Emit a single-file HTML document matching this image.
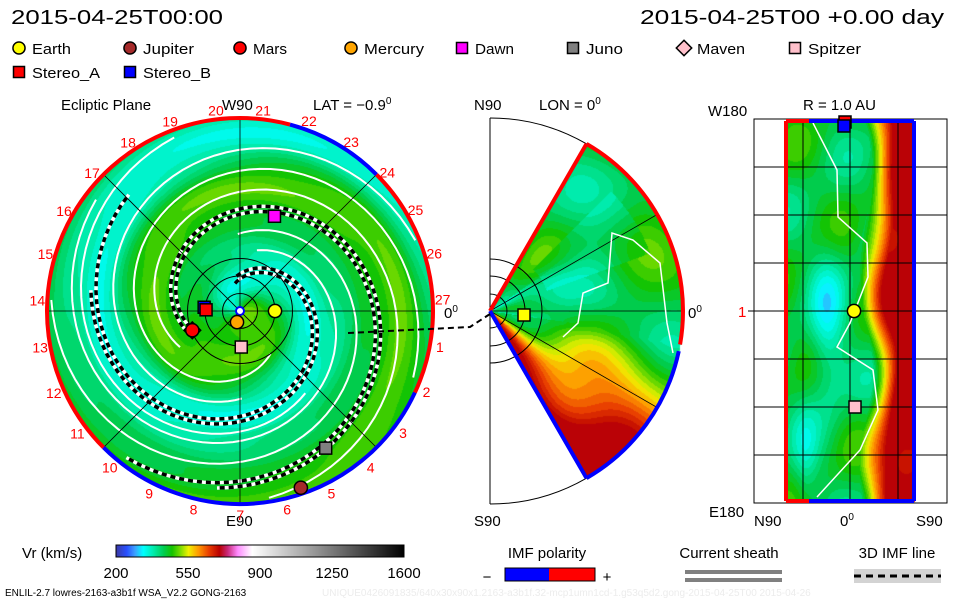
<!DOCTYPE html>
<html><head><meta charset="utf-8"><style>
html,body{margin:0;padding:0;background:#fff;}
#wrap{position:relative;width:960px;height:600px;overflow:hidden;font-family:"Liberation Sans",sans-serif;}
canvas,svg{position:absolute;left:0;top:0;}
</style></head><body>
<div id="wrap">
<canvas id="cv" width="960" height="600"></canvas>
<svg id="sv" width="960" height="600" xmlns="http://www.w3.org/2000/svg" font-family="Liberation Sans, sans-serif">
<text x="11" y="24" font-size="20" textLength="212" lengthAdjust="spacingAndGlyphs">2015-04-25T00:00</text>
<text x="640" y="24" font-size="20" textLength="304" lengthAdjust="spacingAndGlyphs">2015-04-25T00 +0.00 day</text>
<g id="legend" font-size="15"></g>
<text x="61" y="110" font-size="15">Ecliptic Plane</text>
<text x="222" y="110" font-size="15">W90</text>
<text x="313" y="110" font-size="15">LAT = −0.9<tspan font-size="10" dy="-6">0</tspan></text>
<text x="474" y="110" font-size="15">N90</text>
<text x="539" y="110" font-size="15">LON = 0<tspan font-size="10" dy="-6">0</tspan></text>
<text x="708" y="116" font-size="15">W180</text>
<text x="803" y="110" font-size="15">R = 1.0 AU</text>
<text x="226" y="526" font-size="15">E90</text>
<text x="474" y="526" font-size="15">S90</text>
<text x="709" y="517" font-size="15">E180</text>
<text x="754" y="526" font-size="15">N90</text>
<text x="840" y="526" font-size="15">0<tspan font-size="10" dy="-6">0</tspan></text>
<text x="916" y="526" font-size="15">S90</text>
<text x="444" y="318" font-size="15">0<tspan font-size="10" dy="-6">0</tspan></text>
<text x="688" y="318" font-size="15">0<tspan font-size="10" dy="-6">0</tspan></text>
<text x="738" y="317" font-size="15" fill="#f00">1</text>
<g id="left"></g>
<g id="mid"></g>
<g id="right"></g>
<text x="22" y="558" font-size="15">Vr (km/s)</text>
<g id="cbar"></g>
<text x="547" y="558" font-size="15" text-anchor="middle">IMF polarity</text>
<rect x="505" y="568" width="44" height="13" fill="#0000ff"/>
<rect x="549" y="568" width="46" height="13" fill="#ff0000"/>
<rect x="505" y="568" width="90" height="13" fill="none" stroke="#000"/>
<text x="487" y="582" font-size="15" text-anchor="middle">−</text>
<text x="607" y="582" font-size="15" text-anchor="middle">+</text>
<text x="729" y="558" font-size="15" text-anchor="middle">Current sheath</text>
<rect x="685" y="570" width="97" height="4" fill="#808080"/>
<rect x="685" y="578" width="97" height="4" fill="#808080"/>
<text x="897" y="558" font-size="15" text-anchor="middle">3D IMF line</text>
<rect x="854" y="569" width="87" height="14" fill="#d3d3d3"/>
<line x1="854" y1="576" x2="941" y2="576" stroke="#000" stroke-width="3" stroke-dasharray="7,5"/>
<text x="5" y="596" font-size="10">ENLIL-2.7 lowres-2163-a3b1f WSA_V2.2 GONG-2163</text>
<text x="322" y="596" font-size="10" fill="#ececec">UNIQUE0426091835/640x30x90x1.2163-a3b1f.32-mcp1umn1cd-1.g53q5d2.gong-2015-04-25T00   2015-04-26</text>
</svg>
</div>
<script>
// ---- data ----
const bodyNames = ['Earth','Jupiter','Mars','Mercury','Dawn','Juno','Maven','Spitzer','Stereo_A','Stereo_B'];
const bodyR = [1.0, 5.34, 1.47, 0.33, 2.88, 4.62, 1.47, 1.03, 0.97, 1.03]; // AU
const bodyLon = [0, -71, -158, -105, 70, -58, -158, -88, 178, 174]; // deg
const bodyShape = ['circle','circle','circle','circle','square','square','diamond','square','square','square'];
const bodyColor = ['#ffff00','#a52a2a','#ff0000','#ffa500','#ff00ff','#808080','#ffc0cb','#ffc0cb','#ff0000','#0000ff'];
const cbTicks = [200,550,900,1250,1600];
const sheathPhi0 = [5.72, 5.95, 2.95, 3.17];
const sheathR0 = [1.4, 1.6, 0.8, 1.0];
const sheathR1 = [5.3, 5.1, 4.6, 4.3];
const whitePhi0 = [0.4, 1.3, 2.2, 4.0, 4.9, 3.6];
const whiteR0 = [2.0, 1.5, 2.5, 1.8, 2.2, 3.0];
const whiteR1 = [5.4, 5.3, 5.4, 5.2, 5.4, 5.3];
// legend layout (not data)
const legendX = [19,130,240,351,462,573,684,795,19,130];
const legendY = [48,48,48,48,48,48,48,48,72,72];
const legendW = [39,51,34,60,39,37,48,53,68,68];

const NS='http://www.w3.org/2000/svg';
function mk(tag, attrs, parent){const e=document.createElementNS(NS,tag);for(const k in attrs)e.setAttribute(k,attrs[k]);parent.appendChild(e);return e;}

const stops=[[200,58,58,168],[250,40,80,255],[290,60,160,255],[330,0,255,255],[380,0,235,170],[430,0,205,80],[470,20,195,0],[510,120,220,0],[550,240,240,0],[600,255,150,0],[650,232,60,0],[700,185,0,0],[740,200,40,120],[790,255,140,255],[860,255,255,255],[1600,0,0,0]];
function cmap(v){
  if(v<=stops[0][0])return stops[0].slice(1);
  for(let i=1;i<stops.length;i++){if(v<=stops[i][0]){const a=stops[i-1],b=stops[i],t=(v-a[0])/(b[0]-a[0]);return [a[1]+(b[1]-a[1])*t,a[2]+(b[2]-a[2])*t,a[3]+(b[3]-a[3])*t];}}
  return [0,0,0];
}
const cv=document.getElementById('cv'),ctx=cv.getContext('2d');
const img=ctx.createImageData(960,600),D=img.data;
function put(x,y,v){v=Math.min(v,700);const c=cmap(Math.round(v/18)*18);const i=(y*960+x)*4;D[i]=c[0];D[i+1]=c[1];D[i+2]=c[2];D[i+3]=255;}
const CX=240,CY=311,R=193,AU=35;
for(let y=CY-R;y<=CY+R;y++)for(let x=CX-R;x<=CX+R;x++){
  const dx=x-CX,dy=CY-y,r=Math.hypot(dx,dy);if(r>R)continue;
  const ra=r/AU,ph=Math.atan2(dy,dx)+1.5*ra;
  let v=425-62*Math.cos(ph-3.29)+18*Math.cos(2*(ph-1.0))+8*Math.sin(r/6);
  if(r<60)v+=(1-r/60)*70*Math.max(0,Math.cos(ph-5.0));
  put(x,y,v);
}
const MX=490,MY=311;
for(let y=MY-R;y<=MY+R;y++)for(let x=MX;x<=MX+R;x++){
  const dx=x-MX,dy=MY-y,r=Math.hypot(dx,dy);if(r>R)continue;
  const th=Math.atan2(dy,dx)*180/Math.PI;if(th>60||th<-60)continue;
  let v=440+35*Math.sin(th/9+r/30)+28*Math.cos(r/22-th/14);
  if(th<-10)v+=(-th-10)*6*(1-0.25*Math.sin(r/35));
  if(th>-8&&th<35&&r<90)v-=70*(1-r/90);
  if(th>20&&th<45&&r>60&&r<170)v-=25;
  put(x,y,v);
}
for(let y=122;y<=501;y++)for(let x=786;x<=914;x++){
  const u=(x-786)/128,w=(y-122)/379;
  let v=440+30*Math.sin(w*20+u*6)+25*Math.cos(w*13-u*9);
  const s=0.62+0.05*Math.sin(w*12);
  if(u>s)v+=Math.min(1,(u-s)/0.22)*300;
  v-=90*Math.exp(-((u-0.32)**2/0.02+(w-0.55)**2/0.04));
  v-=50*Math.exp(-((u-0.15)**2/0.01+(w-0.9)**2/0.02));
  put(x,y,v);
}
ctx.putImageData(img,0,0);

const L=document.getElementById('left');
const lblG=mk('g',{},L);


for(let k=1;k<=27;k++){
  const a=(96.8+(20-k)*13.33)*Math.PI/180;
  const t=mk('text',{x:CX+203*Math.cos(a),y:CY-203*Math.sin(a)+6,'font-size':14,fill:'#ff0000','text-anchor':'middle'},lblG);
  t.textContent=k;
}
function spiralPath(phi0,r0,r1,k){let d='';for(let r=r0;r<=r1;r+=0.05){const p=phi0-k*r;d+=(d?'L':'M')+(CX+r*AU*Math.cos(p)).toFixed(1)+','+(CY-r*AU*Math.sin(p)).toFixed(1);}return d;}
for(let i=0;i<whitePhi0.length;i++){
  const p=mk('path',{d:spiralPath(whitePhi0[i],whiteR0[i],whiteR1[i],1.5),fill:'none',stroke:'#fff','stroke-width':2},L);
  
  
}
for(let i=0;i<sheathPhi0.length;i++){
  const d=spiralPath(sheathPhi0[i],sheathR0[i],sheathR1[i],1.5);
  const a=mk('path',{d:d,fill:'none',stroke:'#fff','stroke-width':3.5},L);
  
  
  const b=mk('path',{d:d,fill:'none',stroke:'#000','stroke-width':3.5,'stroke-dasharray':'5,4'},L);
  
  
}
const gl=[[CX-R,CY,CX+R,CY],[CX,CY-R,CX,CY+R]];
const q=R*Math.SQRT1_2;gl.push([CX-q,CY-q,CX+q,CY+q],[CX-q,CY+q,CX+q,CY-q]);
gl.forEach(g=>{const l=mk('line',{x1:g[0],y1:g[1],x2:g[2],y2:g[3],stroke:'#000','stroke-width':0.8},L);
  
  });
[0.5,1,1.5].forEach(r=>{const c=mk('circle',{cx:CX,cy:CY,r:r*AU,fill:'none',stroke:'#000','stroke-width':1},L);
  
  });
function arc(a0,a1,rr){const p0=[CX+rr*Math.cos(a0*Math.PI/180),CY-rr*Math.sin(a0*Math.PI/180)],p1=[CX+rr*Math.cos(a1*Math.PI/180),CY-rr*Math.sin(a1*Math.PI/180)];const large=Math.abs(a1-a0)>180?1:0;return `M${p0[0]},${p0[1]}A${rr},${rr} 0 ${large} 0 ${p1[0]},${p1[1]}`;}
[[-25,45,'#f00'],[45,75,'#00f'],[75,225,'#f00'],[225,335,'#00f']].forEach(s=>{const p=mk('path',{d:arc(s[0],s[1],R),fill:'none',stroke:s[2],'stroke-width':4},L);
  
  });
const sun=mk('circle',{cx:CX,cy:CY,r:4,fill:'#fff',stroke:'#00f','stroke-width':2},L);


const dl=mk('path',{d:'M348,333 L470,327 L490,314',fill:'none',stroke:'#000','stroke-width':2,'stroke-dasharray':'6,4'},document.getElementById('sv'));



function marker(parent,shape,x,y,col,s){
  let e;
  if(shape==='circle')e=mk('circle',{cx:x,cy:y,r:s*0.55,fill:col,stroke:'#000','stroke-width':1.5},parent);
  else if(shape==='square')e=mk('rect',{x:x-s/2,y:y-s/2,width:s,height:s,fill:col,stroke:'#000','stroke-width':1.5},parent);
  else e=mk('path',{d:`M${x},${y-s*0.7}L${x+s*0.7},${y}L${x},${y+s*0.7}L${x-s*0.7},${y}Z`,fill:col,stroke:'#000','stroke-width':1.5},parent);
  return e;
}
for(let i=bodyNames.length-1;i>=0;i--){
  const a=bodyLon[i]*Math.PI/180;
  const m=marker(L,bodyShape[i],CX+bodyR[i]*AU*Math.cos(a),CY-bodyR[i]*AU*Math.sin(a),bodyColor[i],12);
  
  
}
const LG=document.getElementById('legend');
for(let i=0;i<bodyNames.length;i++){
  const m=marker(LG,bodyShape[i],legendX[i],legendY[i],bodyColor[i],11);
  
  
  const t=mk('text',{x:legendX[i]+13,y:legendY[i]+6,textLength:legendW[i],lengthAdjust:'spacingAndGlyphs'},LG);
  t.textContent=bodyNames[i];
  
  
}
const M=document.getElementById('mid');
function nm(e,n){return e;}
nm(mk('line',{x1:490,y1:118,x2:490,y2:504,stroke:'#000'},M),'mid-axis');
nm(mk('path',{d:`M490,118 A193,193 0 0 1 ${490+193*Math.cos(Math.PI/3)},${311-193*Math.sin(Math.PI/3)}`,fill:'none',stroke:'#000'},M),'mid-outline');
nm(mk('path',{d:`M${490+193*Math.cos(Math.PI/3)},${311+193*Math.sin(Math.PI/3)} A193,193 0 0 1 490,504`,fill:'none',stroke:'#000'},M),'mid-outline');
[0,30,-30].forEach(g=>{const a=g*Math.PI/180;nm(mk('line',{x1:490,y1:311,x2:490+193*Math.cos(a),y2:311-193*Math.sin(a),stroke:'#000','stroke-width':0.8},M),'mid-grid');});
[17,35,52].forEach(r=>{nm(mk('path',{d:`M490,${311-r}A${r},${r} 0 0 1 490,${311+r}`,fill:'none',stroke:'#000'},M),'mid-au-ring');});
function marc(a0,a1,col){const p=(a)=>[490+193*Math.cos(a*Math.PI/180),311-193*Math.sin(a*Math.PI/180)];const A=p(a0),B=p(a1);return mk('path',{d:`M${A[0]},${A[1]}A193,193 0 0 0 ${B[0]},${B[1]}`,fill:'none',stroke:col,'stroke-width':4},M);}
nm(marc(-10,60,'#f00'),'mid-ring-positive');
nm(marc(-60,-12,'#00f'),'mid-ring-negative');
nm(mk('line',{x1:490,y1:311,x2:490+193*Math.cos(Math.PI/3),y2:311-193*Math.sin(Math.PI/3),stroke:'#f00','stroke-width':4},M),'mid-edge-north');
nm(mk('line',{x1:490,y1:311,x2:490+193*Math.cos(Math.PI/3),y2:311+193*Math.sin(Math.PI/3),stroke:'#00f','stroke-width':4},M),'mid-edge-south');
nm(mk('path',{d:'M563,337 L578,323 L583,293 L608,283 L612,233 L633,240 L660,263 L667,323 L673,353',fill:'none',stroke:'#fff','stroke-width':1.5},M),'mid-contour');
nm(marker(M,'square',524,315,'#ffff00',12),'mid-earth-marker');
const Rg=document.getElementById('right');
nm(mk('rect',{x:754,y:119,width:193,height:384,fill:'none',stroke:'#000'},Rg),'right-frame');
[167,215,263,311,359,407,455].forEach(y=>{nm(mk('line',{x1:754,y1:y,x2:947,y2:y,stroke:'#000'},Rg),'right-hgrid');});
[803,850,898].forEach(x=>{nm(mk('line',{x1:x,y1:119,x2:x,y2:503,stroke:'#000'},Rg),'right-vgrid');});
nm(mk('line',{x1:748,y1:311,x2:754,y2:311,stroke:'#000'},Rg),'right-tick');
nm(mk('path',{d:'M813,123 L837,170 L838,217 L867,243 L868,277 L850,323 L837,347 L873,370 L878,410 L860,450 L817,497',fill:'none',stroke:'#fff','stroke-width':1.5},Rg),'right-contour');
nm(mk('line',{x1:786,y1:121,x2:786,y2:501,stroke:'#f00','stroke-width':4},Rg),'right-edge-north');
nm(mk('line',{x1:914,y1:121,x2:914,y2:501,stroke:'#00f','stroke-width':4},Rg),'right-edge-south');
nm(mk('line',{x1:786,y1:121,x2:809,y2:121,stroke:'#f00','stroke-width':4},Rg),'right-top-pos');
nm(mk('line',{x1:809,y1:121,x2:914,y2:121,stroke:'#00f','stroke-width':4},Rg),'right-top-neg');
nm(mk('line',{x1:786,y1:501,x2:809,y2:501,stroke:'#f00','stroke-width':4},Rg),'right-bottom-pos');
nm(mk('line',{x1:809,y1:501,x2:914,y2:501,stroke:'#00f','stroke-width':4},Rg),'right-bottom-neg');
nm(marker(Rg,'square',845,122,'#ff0000',12),'right-stereo-a');
nm(marker(Rg,'square',844,126,'#0000ff',12),'right-stereo-b');
nm(marker(Rg,'circle',854,311,'#ffff00',12),'right-earth');
nm(marker(Rg,'square',855,407,'#ffc0cb',12),'right-spitzer');
const CB=document.getElementById('cbar');
const x0=116,x1=404;
for(let i=0;i<x1-x0;i++){const v=200+1400*i/(x1-x0);const c=cmap(v);
  mk('rect',{x:x0+i,y:545,width:1.2,height:12,fill:`rgb(${c.map(Math.round).join(',')})`},CB);
}
nm(mk('rect',{x:x0,y:545,width:x1-x0,height:12,fill:'none',stroke:'#000'},CB),'colorbar-frame');
cbTicks.forEach(t=>{const tx=mk('text',{x:x0+(t-200)/1400*(x1-x0),y:578,'font-size':15,'text-anchor':'middle'},CB);tx.textContent=t;
  
  });
</script>
</body></html>
